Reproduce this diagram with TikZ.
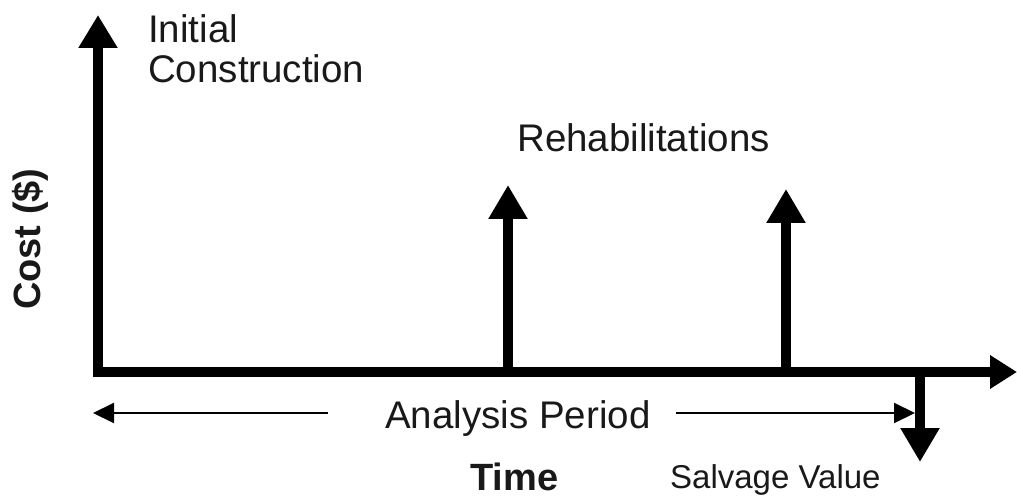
\documentclass[tikz,border=0pt]{standalone}
\usepackage{fontspec}
\setmainfont{Liberation Sans}
\usetikzlibrary{arrows.meta}
\begin{document}
\begin{tikzpicture}[x=1pt,y=-1pt,
  axis/.style={line width=10pt, line join=miter},
  bigtip/.style={-{Triangle[length=34pt,width=37pt]}},
  thin arrow/.style={line width=2pt, -{Triangle[length=21pt,width=20pt]}},
  lbl/.style={inner sep=0pt, anchor=base west, font=\fontsize{38.5}{40}\selectfont, text=black!90},
  boldlbl/.style={lbl, font=\fontsize{38}{40}\selectfont\bfseries}
]
\useasboundingbox[fill=white] (0,0) rectangle (1017,497);
% axes
\coordinate (ytip) at (98,15);
\coordinate (origin) at (98,372);
\coordinate (xtip) at (1017,372);
\draw[axis, {Triangle[length=33pt,width=37pt]}-{Triangle[length=27pt,width=32pt]}] (ytip) |- (xtip);
% rehabilitation arrows
\coordinate (r1b) at (508,372);
\coordinate (r1t) at (508,185);
\coordinate (r2b) at (786,372);
\coordinate (r2t) at (786,189);
\draw[axis, bigtip] (r1b) -- (r1t);
\draw[axis, bigtip] (r2b) -- (r2t);
% salvage arrow
\coordinate (sb) at (920,372);
\coordinate (st) at (920,462);
\draw[axis, bigtip] (sb) -- (st);
% analysis period
\coordinate (apL0) at (328,413);
\coordinate (apL1) at (93,413);
\coordinate (apR0) at (676,413);
\coordinate (apR1) at (915,413);
\draw[thin arrow] (apL0) -- (apL1);
\draw[thin arrow] (apR0) -- (apR1);
% labels
\node[lbl] (init1) at (148,43) {Initial};
\node[lbl] (init2) at (148,83) {Construction};
\node[lbl] (rehab) at (517,152) {Rehabilitations};
\node[lbl] (ap) at (385,428) {Analysis Period};
\node[boldlbl] (time) at (470,490) {Time};
\node[lbl, font=\fontsize{33}{36}\selectfont] (salv) at (670,488) {Salvage Value};
\node[boldlbl, rotate=90] (cost) at (40,310) {Cost (\$)};
\end{tikzpicture}
\end{document}
